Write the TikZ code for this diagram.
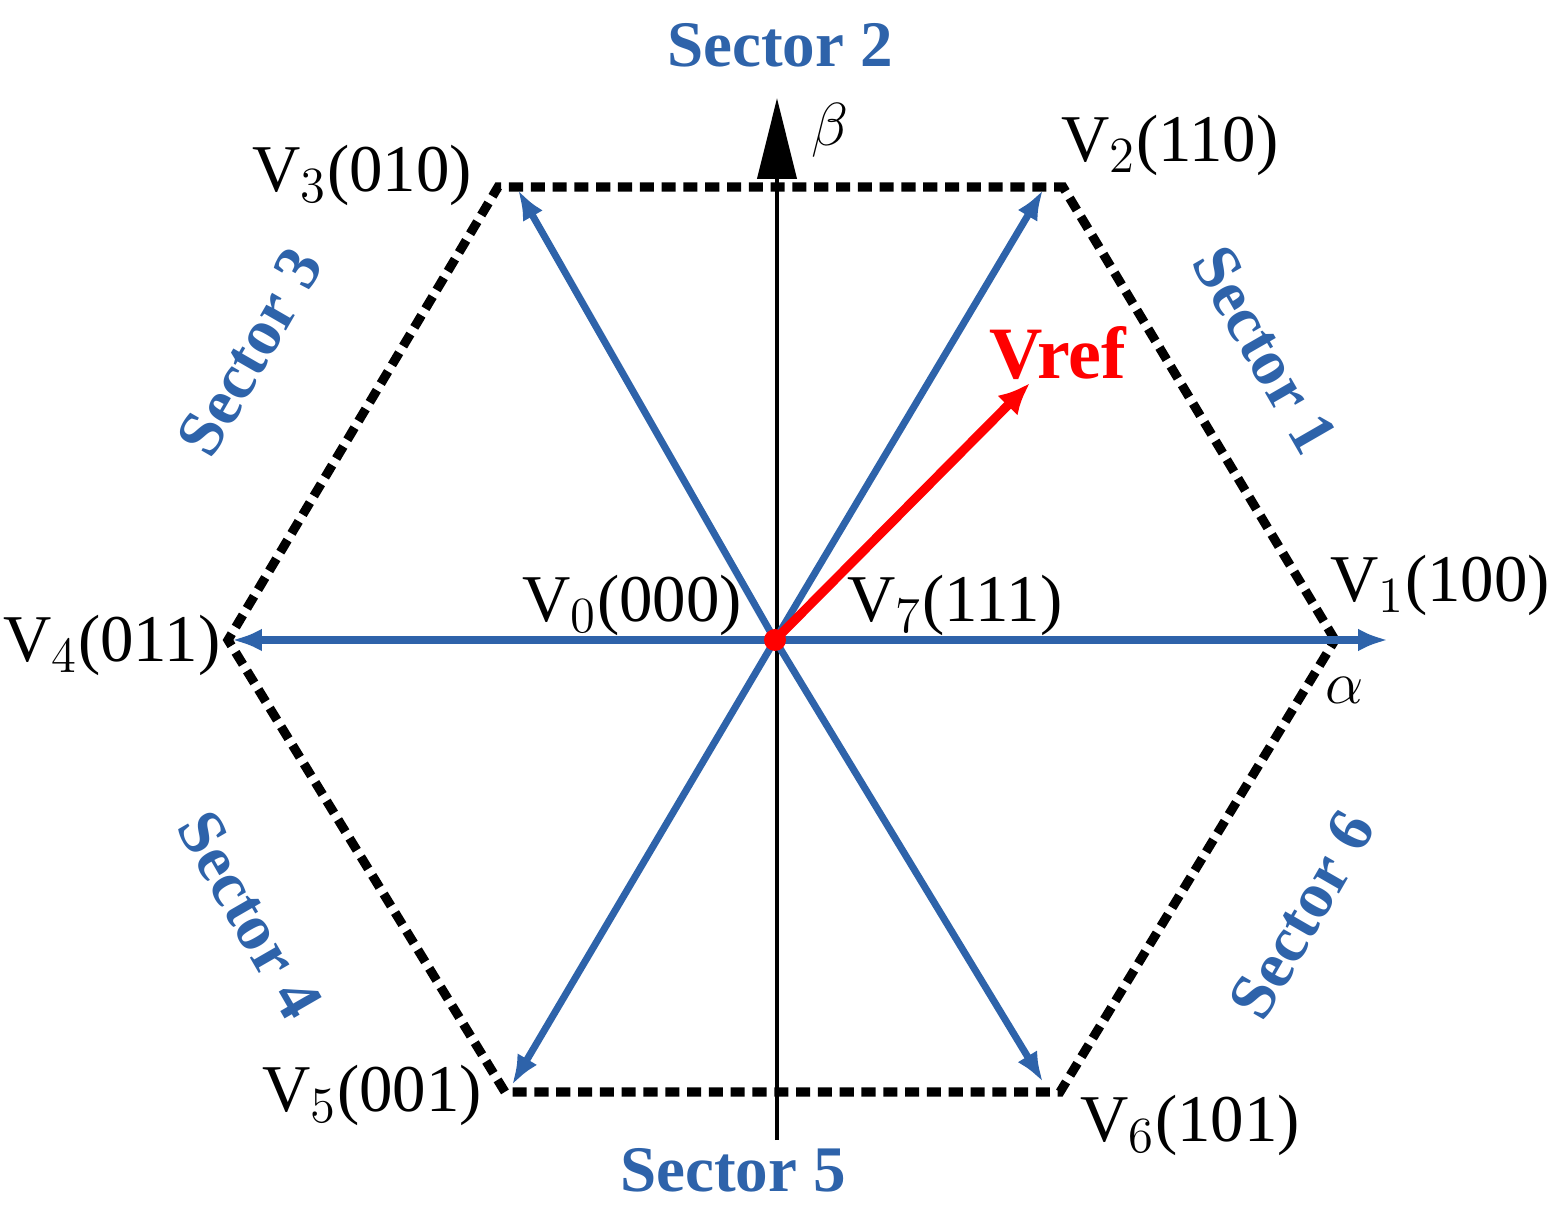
\documentclass[tikz,border=0pt]{standalone}
\usepackage{fontspec}
\setmainfont{Liberation Serif}
\usetikzlibrary{arrows.meta}
\definecolor{sblue}{RGB}{46,99,170}
\begin{document}
\begin{tikzpicture}[x=0.01cm,y=-0.01cm,
  hexe/.style={black,line width=2.6pt,dash pattern=on 4pt off 2.2pt},
  vec/.style={sblue,line width=2pt,-{Latex[length=8.5pt,width=6.5pt]}},
  lab/.style={font=\fontsize{19}{21}\selectfont,inner sep=0pt},
  sec/.style={sblue,font=\fontsize{18.5}{21}\selectfont\bfseries,inner sep=0pt}]
\useasboundingbox (0,0) rectangle (1560,1228);
\coordinate (O) at (775,640);
\coordinate (H1) at (1335,640);
\coordinate (H2) at (1063,187);
\coordinate (H3) at (498,187);
\coordinate (H4) at (228,640);
\coordinate (H5) at (505,1092);
\coordinate (H6) at (1060,1092);
\draw[hexe] (H1)--(H2)--(H3)--(H4)--(H5)--(H6)--cycle;
\coordinate (Bb) at (777,1140);
\coordinate (Bt) at (777,98);
\draw[black,line width=1.4pt,-{Triangle[length=23pt,width=11pt]}] (Bb)--(Bt);
\coordinate (A1) at (1388,640);
\coordinate (A2) at (1043,190);
\coordinate (A3) at (518,190);
\coordinate (A4) at (232,640);
\coordinate (A5) at (512,1085);
\coordinate (A6) at (1043,1082);
\foreach \a in {A1,A2,A3,A4,A5,A6} \draw[vec] (O)--(\a);
\coordinate (R) at (1030,383);
\draw[red,line width=2.6pt,-{Latex[length=9pt,width=8pt]}] (O)--(R);
\fill[red] (O) circle (11);
\node[lab] (l1) at (1440,585) {V$_1$(100)};
\node[lab] (l2) at (1170,145) {V$_2$(110)};
\node[lab] (l3) at (362,175) {V$_3$(010)};
\node[lab] (l4) at (112,645) {V$_4$(011)};
\node[lab] (l5) at (372,1095) {V$_5$(001)};
\node[lab] (l6) at (1190,1125) {V$_6$(101)};
\node[lab] (l0) at (632,605) {V$_0$(000)};
\node[lab] (l7) at (955,605) {V$_7$(111)};
\node[lab] (al) at (1345,690) {$\alpha$};
\node[lab] (be) at (830,130) {$\beta$};
\node[red,font=\fontsize{21}{23}\selectfont\bfseries,inner sep=0pt] (vr) at (1058,353) {Vref};
\node[sec] (s2) at (780,45) {Sector 2};
\node[sec] (s5) at (733,1170) {Sector 5};
\node[sec,rotate=-60] (s1) at (1265,350) {Sector 1};
\node[sec,rotate=60] (s3) at (250,352) {Sector 3};
\node[sec,rotate=-60] (s4) at (250,915) {Sector 4};
\node[sec,rotate=60] (s6) at (1302,915) {Sector 6};
\end{tikzpicture}
\end{document}
